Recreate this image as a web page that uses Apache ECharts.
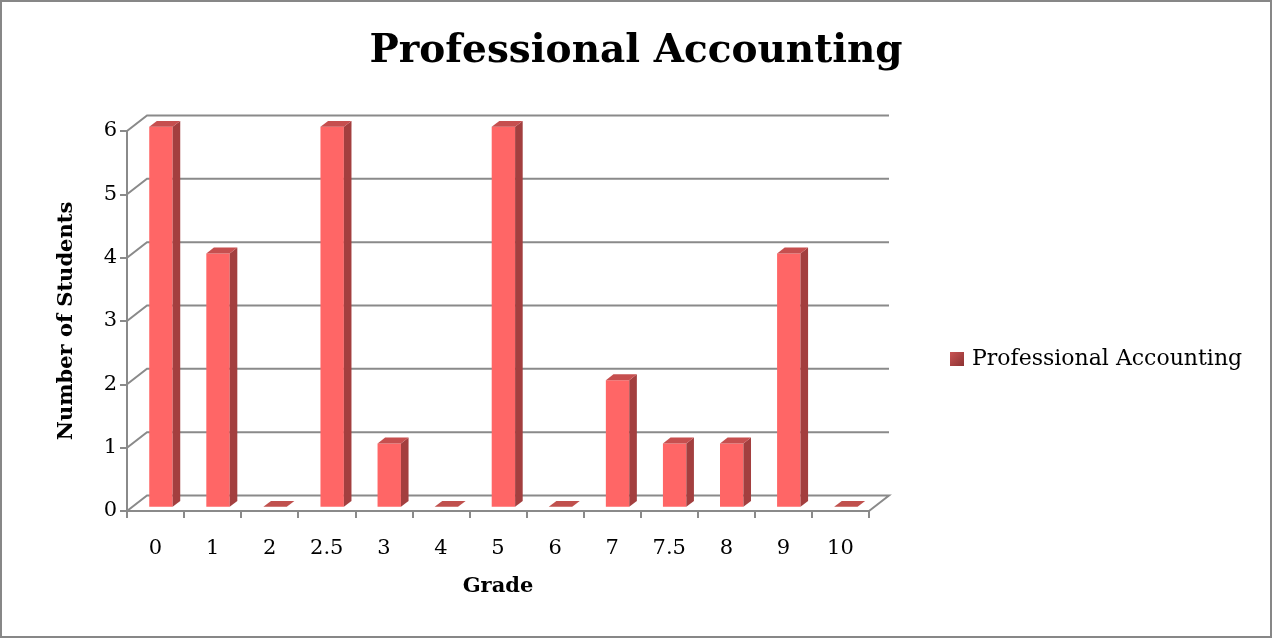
<!DOCTYPE html>
<html>
<head>
<meta charset="utf-8">
<script src="https://cdn.jsdelivr.net/npm/echarts@6/dist/echarts.min.js"></script>
<style>
  html, body { margin: 0; padding: 0; background: #fff; }
  #chart { width: 1272px; height: 638px; }
</style>
</head>
<body>
<div id="chart"></div>
<script>
// Grade distribution for the Professional Accounting course
const grades = ['0', '1', '2', '2.5', '3', '4', '5', '6', '7', '7.5', '8', '9', '10'];
const students = [6, 4, 0, 6, 1, 0, 6, 0, 2, 1, 1, 4, 0];
const yTicks = [0, 1, 2, 3, 4, 5, 6];

const FONT = 'DejaVu Serif';
const GRID_COLOR = '#8a8a8a';

// Oblique projection of the floor depth (front plane -> back wall)
const DEPTH_X = 20;
const DEPTH_Y = -15.5;
// Bar placement inside the depth, as fractions of the full floor depth
const BAR_FRONT = 0.27;
const BAR_BACK = 0.65;
// Bar width as a fraction of one category band
const BAR_WIDTH = 0.41;

// Back wall gridlines, left side wall diagonals and the floor outline
function renderFrame(params, api) {
  const v = api.value(1);
  const cs = params.coordSys;
  const y = api.coord([0, v])[1];
  const x0 = cs.x;
  const x1 = cs.x + cs.width;
  const pts = [[x0, y], [x0 + DEPTH_X, y + DEPTH_Y], [x1 + DEPTH_X, y + DEPTH_Y]];
  if (v === 0) pts.push([x1, y]);
  return {
    type: 'polyline',
    shape: { points: pts },
    style: { stroke: GRID_COLOR, lineWidth: 2, fill: null }
  };
}

// 3D-looking column: front face, right side face and top face
function renderBar(params, api) {
  const idx = api.value(0);
  const val = api.value(1);
  const top = api.coord([idx, val]);
  const base = api.coord([idx, 0]);
  const bw = api.size([1, 0])[0] * BAR_WIDTH;
  const fx = BAR_FRONT * DEPTH_X;
  const fy = BAR_FRONT * DEPTH_Y;
  const dx = (BAR_BACK - BAR_FRONT) * DEPTH_X;
  const dy = (BAR_BACK - BAR_FRONT) * DEPTH_Y;
  const l = top[0] + fx - bw / 2;
  const r = l + bw;
  const yt = top[1] + fy;
  const yb = base[1] + fy;

  const topFace = {
    type: 'polygon',
    shape: { points: [[l, yt], [r, yt], [r + dx, yt + dy], [l + dx, yt + dy]] },
    style: { fill: val === 0 ? '#C0504D' : '#C64F4F' }
  };
  if (val === 0) {
    return { type: 'group', children: [topFace] };
  }
  const front = {
    type: 'rect',
    shape: { x: l, y: yt, width: bw, height: yb - yt },
    style: { fill: '#FF6666' }
  };
  const side = {
    type: 'polygon',
    shape: { points: [[r, yt], [r + dx, yt + dy], [r + dx, yb + dy], [r, yb]] },
    style: { fill: '#A33F3F' }
  };
  return { type: 'group', children: [front, side, topFace] };
}

const chart = echarts.init(document.getElementById('chart'), null, { renderer: 'canvas' });

chart.setOption({
  backgroundColor: '#ffffff',
  animation: false,
  title: {
    text: 'Professional Accounting',
    left: 'center',
    top: 27,
    textStyle: { fontFamily: FONT, fontSize: 39, fontWeight: 'bold', color: '#000' }
  },
  legend: {
    data: [{
      name: 'Professional Accounting',
      itemStyle: {
        color: {
          type: 'linear', x: 0, y: 0, x2: 1, y2: 1,
          colorStops: [{ offset: 0, color: '#C95454' }, { offset: 1, color: '#8C3232' }]
        }
      }
    }],
    left: 950,
    top: 348,
    padding: 0,
    icon: 'rect',
    itemWidth: 14,
    itemHeight: 14,
    textStyle: { fontFamily: FONT, fontSize: 22, color: '#000', lineHeight: 22, padding: [0, 0, 0, 3] }
  },
  graphic: [{
    type: 'rect',
    shape: { x: 1, y: 1, width: 1270, height: 636 },
    style: { fill: null, stroke: '#878787', lineWidth: 2 },
    silent: true,
    z: 100
  }],
  grid: { left: 127, right: 403, top: 131, bottom: 127 },
  xAxis: {
    type: 'category',
    data: grades,
    boundaryGap: true,
    name: 'Grade',
    nameLocation: 'middle',
    nameGap: 65,
    nameTextStyle: { fontFamily: FONT, fontSize: 21, fontWeight: 'bold', color: '#000' },
    axisLine: { lineStyle: { color: GRID_COLOR, width: 2 } },
    axisTick: { show: true, interval: 0, length: 7, lineStyle: { color: GRID_COLOR, width: 2 } },
    axisLabel: { interval: 0, margin: 27, fontFamily: FONT, fontSize: 21, color: '#000' },
    splitLine: { show: false }
  },
  yAxis: {
    type: 'value',
    min: 0,
    max: 6,
    interval: 1,
    name: 'Number of Students',
    nameLocation: 'middle',
    nameRotate: 90,
    nameGap: 50,
    nameTextStyle: { fontFamily: FONT, fontSize: 21, fontWeight: 'bold', color: '#000' },
    axisLine: { show: true, lineStyle: { color: GRID_COLOR, width: 2 } },
    axisTick: { show: true, length: 7, lineStyle: { color: GRID_COLOR, width: 2 } },
    axisLabel: { margin: 10, fontFamily: FONT, fontSize: 21, color: '#000' },
    splitLine: { show: false }
  },
  series: [
    {
      name: 'frame',
      type: 'custom',
      renderItem: renderFrame,
      data: yTicks.map(v => [0, v]),
      encode: { x: 0, y: 1 },
      silent: true,
      z: 1
    },
    {
      name: 'Professional Accounting',
      type: 'custom',
      renderItem: renderBar,
      data: students.map((v, i) => [i, v]),
      encode: { x: 0, y: 1 },
      itemStyle: { color: '#A33F3F' },
      z: 2
    }
  ]
});
</script>
</body>
</html>
